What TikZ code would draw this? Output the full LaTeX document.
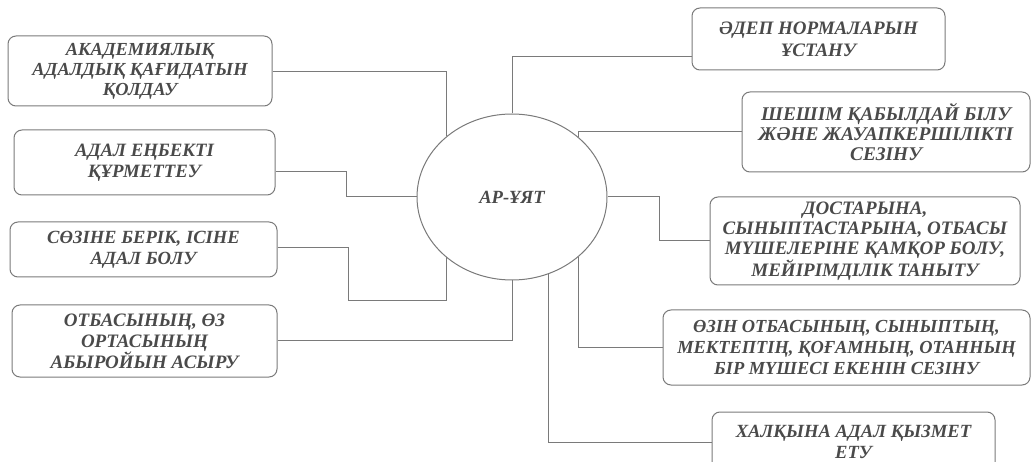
\documentclass[tikz,border=0pt]{standalone}
\usepackage{fontspec}
\setmainfont{Liberation Serif}
\usetikzlibrary{shapes.geometric}
\definecolor{linegray}{HTML}{7A7A7A}
\definecolor{textgray}{HTML}{4A4A4A}
\newcommand{\fs}[2]{\fontsize{#1}{#2}\selectfont\bfseries\itshape}
\tikzset{
  item/.style={draw=linegray, line width=1pt, rounded corners=8pt, align=center,
    inner sep=0pt, text=textgray},
  conn/.style={draw=linegray, line width=1pt},
  hub/.style={ellipse, draw=linegray, line width=1pt, inner sep=0pt,
    minimum width=190pt, minimum height=166pt, text=textgray,
    font=\fs{18.6}{21}}
}
\begin{document}
\begin{tikzpicture}[x=1pt,y=-1pt]
\useasboundingbox (0,0) rectangle (1031,462);
\node[hub] (c) at (512,197) {АР-ҰЯТ};
% left boxes
\node[item, font=\fs{18.4}{20}, minimum width=264pt, minimum height=70pt] (b1) at (140,71) {АКАДЕМИЯЛЫҚ\\АДАЛДЫҚ ҚАҒИДАТЫН\\ҚОЛДАУ};
\node[item, font=\fs{18.8}{21}, minimum width=261pt, minimum height=65pt] (b2) at (144.5,162.5) {АДАЛ ЕҢБЕКТІ\\ҚҰРМЕТТЕУ};
\node[item, font=\fs{18.6}{21}, minimum width=267pt, minimum height=55pt] (b3) at (143.5,249.5) {СӨЗІНЕ БЕРІК, ІСІНЕ\\АДАЛ БОЛУ};
\node[item, font=\fs{19}{21}, minimum width=265pt, minimum height=72pt] (b4) at (144.5,341) {ОТБАСЫНЫҢ, ӨЗ\\ОРТАСЫНЫҢ\\АБЫРОЙЫН АСЫРУ};
% right boxes
\node[item, font=\fs{19}{22}, minimum width=253pt, minimum height=62pt] (r1) at (818.5,39) {ӘДЕП НОРМАЛАРЫН\\ҰСТАНУ};
\node[item, font=\fs{19.4}{20}, minimum width=288pt, minimum height=80pt] (r2) at (886,132) {ШЕШІМ ҚАБЫЛДАЙ БІЛУ\\ЖӘНЕ ЖАУАПКЕРШІЛІКТІ\\СЕЗІНУ};
\node[item, font=\fs{19}{20}, minimum width=310pt, minimum height=88pt] (r3) at (865,241) {ДОСТАРЫНА,\\СЫНЫПТАСТАРЫНА, ОТБАСЫ\\МҮШЕЛЕРІНЕ ҚАМҚОР БОЛУ,\\МЕЙІРІМДІЛІК ТАНЫТУ};
\node[item, font=\fs{18.4}{21}, minimum width=367pt, minimum height=75pt] (r4) at (846.5,347.5) {ӨЗІН ОТБАСЫНЫҢ, СЫНЫПТЫҢ,\\МЕКТЕПТІҢ, ҚОҒАМНЫҢ, ОТАННЫҢ\\БІР МҮШЕСІ ЕКЕНІН СЕЗІНУ};
\node[item, font=\fs{18.6}{21}, minimum width=283pt, minimum height=60pt] (r5) at (853.5,442) {ХАЛҚЫНА АДАЛ ҚЫЗМЕТ\\ЕТУ};
% elbow coordinates
\coordinate (k1) at (446,72);
\coordinate (k2) at (346,172);
\coordinate (k3a) at (348,248);
\coordinate (k3b) at (446,301);
\coordinate (k5) at (512,57);
\coordinate (k7) at (659,197);
% connectors
\draw[conn] (b1.east |- k1) -| (c.137.7);
\draw[conn] (b2.east |- k2) -- (k2) |- (c.west);
\draw[conn] (b3.east |- k3a) -- (k3a) |- (k3b) -- (k3b |- c.222.3);
\draw[conn] (b4.east) -| (c.south);
\draw[conn] (r1.west |- k5) -| (c.north);
\draw[conn] (r2.west) -| (c.42.8);
\draw[conn] (c.east) -- (k7) |- (r3.west);
\draw[conn] (c.-42.8) |- (r4.west);
\draw[conn] (c.-65.6) |- (r5.west);
\end{tikzpicture}
\end{document}
